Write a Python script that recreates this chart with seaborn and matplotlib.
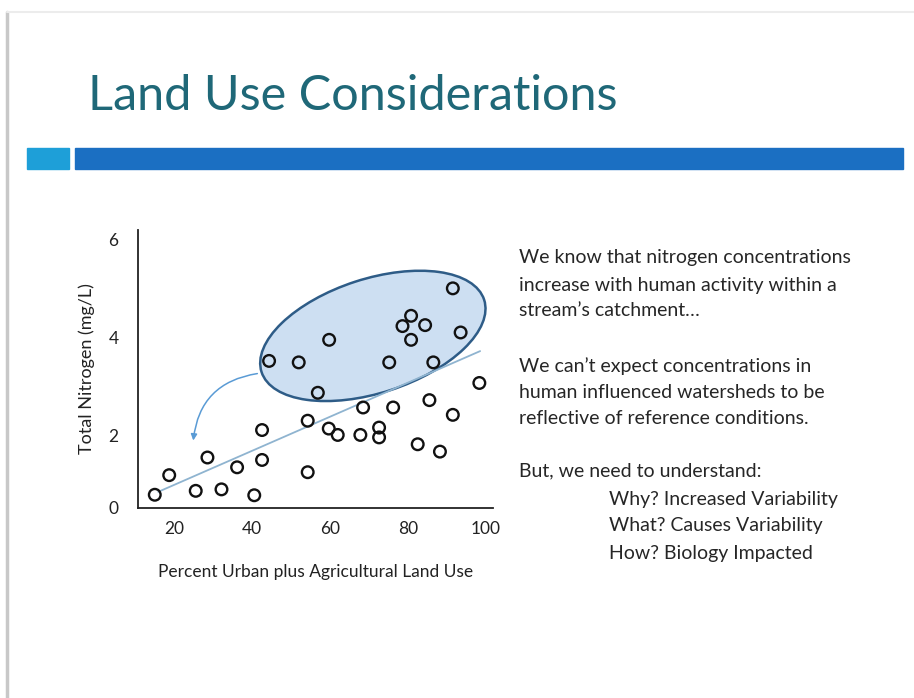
#### Land Use Considerations - nitrogen vs land use scatter slide ####

import numpy as np
import pandas as pd
import matplotlib
matplotlib.use('Agg')
import matplotlib.pyplot as plt
from matplotlib.patches import Ellipse, Rectangle
from matplotlib.lines import Line2D
from matplotlib.transforms import ScaledTranslation
import seaborn as sns

#### Data ####
land_use = [15.1, 18.8, 25.6, 28.6, 32.2, 36.2, 40.6, 42.6, 42.6, 44.4,
            52.0, 54.3, 54.3, 56.9, 59.8, 59.7, 62.0, 67.8, 68.5, 72.6,
            72.6, 75.2, 76.2, 78.6, 80.8, 80.8, 82.5, 84.4, 85.5, 86.5,
            88.2, 91.5, 91.5, 93.5, 98.3]
nitrogen = [0.80, 1.20, 0.88, 1.56, 0.91, 1.36, 0.79, 2.12, 1.51, 3.53,
            3.50, 2.31, 1.26, 2.88, 3.96, 2.15, 2.02, 2.02, 2.58, 2.17,
            1.97, 3.50, 2.58, 4.24, 4.45, 3.96, 1.83, 4.26, 2.73, 3.50,
            1.68, 2.43, 5.01, 4.11, 3.08]
trend_x = [16.0, 98.5]
trend_y = [0.86, 3.73]
x_ticks = [20, 40, 60, 80, 100]
y_ticks = [2, 4, 6]

df = pd.DataFrame({'uso': land_use, 'nitrogenio': nitrogen})
df_trend = pd.DataFrame({'uso': trend_x, 'nitrogenio': trend_y})

texto = [
    ("We know that nitrogen concentrations", 0, 258),
    ("increase with human activity within a", 0, 285),
    ("stream\u2019s catchment\u2026", 0, 311),
    ("We can\u2019t expect concentrations in", 0, 366),
    ("human influenced watersheds to be", 0, 393),
    ("reflective of reference conditions.", 0, 419),
    ("But, we need to understand:", 0, 471),
    ("Why? Increased Variability", 90, 499),
    ("What? Causes Variability", 90, 526),
    ("How? Biology Impacted", 90, 553),
]

#### Figure setup ####
sns.set_theme(style='white')
plt.rcParams['font.family'] = ['Lato', 'DejaVu Sans']

W, H = 914, 698
fig = plt.figure(figsize=(W / 100, H / 100), dpi=100)
fig.patch.set_facecolor('white')

def fx(px):
    return px / W

def fy(py):
    return 1 - py / H

# slide border shadow
fig.add_artist(Line2D([fx(7), fx(7)], [fy(12), 0], color='#c8c8c8', lw=2.5))
fig.add_artist(Line2D([fx(7), 1], [fy(12), fy(12)], color='#ececec', lw=1.5))

# title and header bars
fig.text(fx(88), fy(96), "Land Use Considerations", fontsize=35, color='#1f6878',
         va='center', ha='left')
fig.add_artist(Rectangle((fx(27), fy(169)), fx(69) - fx(27), fy(148) - fy(169),
                         transform=fig.transFigure, color='#1e9fd8'))
fig.add_artist(Rectangle((fx(75), fy(169)), fx(903) - fx(75), fy(148) - fy(169),
                         transform=fig.transFigure, color='#1b6fc2'))

#### Scatter chart ####
ax = fig.add_axes([fx(138), fy(508), fx(493) - fx(138), fy(230) - fy(508)])
xmin, xmax = 10.8, 101.8
ymin, ymax = 0.53, 6.2

# highlighted cluster (ellipse size in inches, centred in data coords)
elipse = Ellipse((0, 0), 2.34, 1.14, angle=18,
                 transform=fig.dpi_scale_trans + ScaledTranslation(71.0, 4.04, ax.transData),
                 facecolor='#cddff2', edgecolor='#2e5c87', lw=1.8, zorder=1)
ax.add_patch(elipse)

sns.lineplot(data=df_trend, x='uso', y='nitrogenio', ax=ax, color='#8fb4d0', lw=1.3, zorder=2)
sns.scatterplot(data=df, x='uso', y='nitrogenio', ax=ax, s=70, facecolor='none',
                edgecolor='#111111', linewidth=1.7, zorder=3)

ax.annotate('', xy=(24.9, 1.85), xytext=(42.1, 3.28),
            arrowprops=dict(arrowstyle='-|>', color='#5a9bd5', lw=1.1,
                            connectionstyle='arc3,rad=0.4', mutation_scale=9))

ax.set_xlim(xmin, xmax)
ax.set_ylim(ymin, ymax)
ax.set_xticks(x_ticks)
ax.set_xticklabels([str(v) for v in x_ticks])
ax.set_yticks([ymin] + y_ticks)
ax.set_yticklabels(['0'] + [str(v) for v in y_ticks])
ax.tick_params(axis='x', length=0, pad=9, labelsize=12.5, colors='#222222')
ax.tick_params(axis='y', length=0, pad=14, labelsize=12.5, colors='#222222')
ax.set_xlabel('Percent Urban plus Agricultural Land Use', fontsize=12.5, color='#222222', labelpad=20)
ax.set_ylabel('Total Nitrogen (mg/L)', fontsize=13, color='#222222', labelpad=10)
ax.set_facecolor('none')
sns.despine(ax=ax)
for lado in ['left', 'bottom']:
    ax.spines[lado].set_color('#222222')
    ax.spines[lado].set_linewidth(1.3)

#### Right-hand text ####
for linha, recuo, py in texto:
    fig.text(fx(519 + recuo), fy(py), linha, fontsize=14, color='#262626', va='center', ha='left')

fig.savefig('out.png', dpi=100)
plt.close()
